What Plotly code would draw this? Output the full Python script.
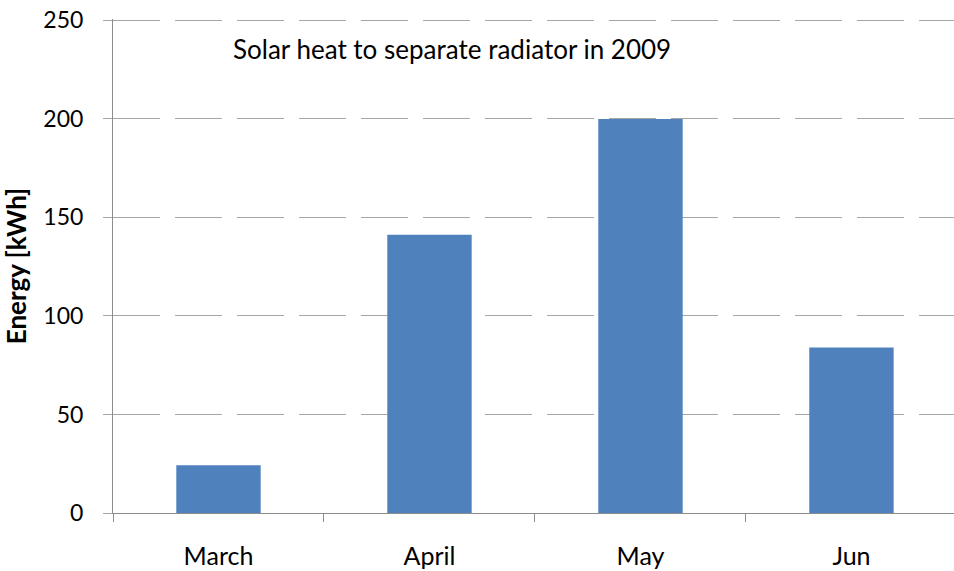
import plotly.graph_objects as go

# Data.
months = ["March", "April", "May", "Jun"]
energy_kwh = [24.2, 141.2, 200.0, 84.0]
y_ticks = [0, 50, 100, 150, 200, 250]

bar_colour = "#4f81bd"
grid_colour = "#a6a6a6"
axis_colour = "#8c8c8c"
font_name = "Lato, Open Sans, sans-serif"

fig = go.Figure()
fig.add_trace(go.Bar(x=months, y=energy_kwh, marker=dict(color=bar_colour, line=dict(width=0))))

fig.update_layout(
    width=954,
    height=571,
    margin=dict(l=113, r=0, t=19, b=58),
    plot_bgcolor="white",
    paper_bgcolor="white",
    bargap=0.6,
    showlegend=False,
    font=dict(family=font_name, size=24, color="#000000"),
)

fig.update_xaxes(
    range=[-0.5, 3.486],
    automargin=False,
    showline=True,
    linecolor=axis_colour,
    linewidth=1,
    ticks="outside",
    tickson="boundaries",
    ticklen=8,
    tickcolor=axis_colour,
    showgrid=False,
    ticklabelstandoff=21,
    tickfont=dict(size=25),
)

# tiny headroom above 250: plotly drops gridlines within 1px of the range end
fig.update_yaxes(
    range=[0, 250.7],
    automargin=False,
    tickvals=y_ticks,
    showline=True,
    linecolor=axis_colour,
    linewidth=1,
    ticks="outside",
    ticklen=9,
    tickcolor=grid_colour,
    showgrid=True,
    gridcolor=grid_colour,
    gridwidth=1,
    griddash="47px,15px",
    zeroline=False,
    ticklabelstandoff=15,
    tickfont=dict(size=23),
    title=dict(text="<b>Energy [kWh]</b>", font=dict(size=26), standoff=11),
)

fig.add_annotation(
    text="Solar heat to separate radiator in 2009",
    xref="paper", yref="paper",
    x=(452 - 113) / 841, y=(513 - 49) / 494,
    xanchor="center", yanchor="middle",
    showarrow=False,
    font=dict(size=26),
)

# drop the page's default body margin so the figure sits at the top-left corner
fig.write_html("out.html", config={"displayModeBar": False},
               post_script="document.body.style.margin = '0';")
